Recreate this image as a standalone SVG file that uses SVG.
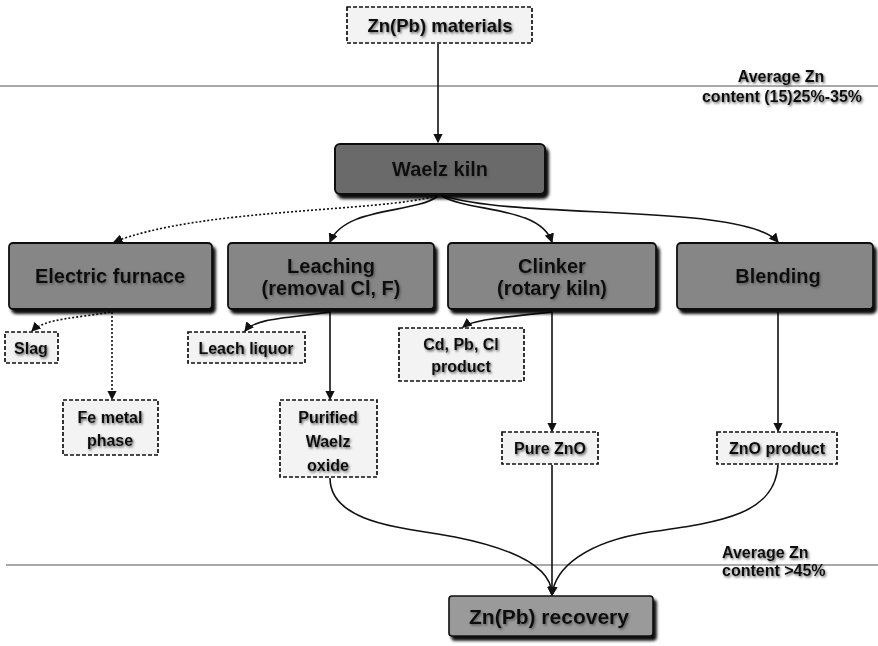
<svg xmlns="http://www.w3.org/2000/svg" width="878" height="646" viewBox="0 0 878 646">
  <defs>
    <filter id="boxShadow" x="-10%" y="-20%" width="125%" height="160%">
      <feDropShadow dx="3" dy="4" stdDeviation="1.6" flood-color="#000" flood-opacity="0.95"/>
    </filter>
    <filter id="txtShadow" x="-5%" y="-20%" width="115%" height="150%">
      <feDropShadow dx="1.2" dy="1.5" stdDeviation="1" flood-color="#555" flood-opacity="0.9"/>
    </filter>
    <marker id="arr" viewBox="0 0 8 8" refX="7" refY="4" markerWidth="6" markerHeight="6" orient="auto">
      <path d="M0,0 L8,4 L0,8 z" fill="#111"/>
    </marker>
    <style>
      .proc { fill: #868686; stroke: #111; stroke-width: 1.8; filter: url(#boxShadow); }
      .kiln { fill: #6a6a6a; stroke: #111; stroke-width: 2; filter: url(#boxShadow); }
      .rec { fill: #9a9a9a; stroke: #111; stroke-width: 1.6; filter: url(#boxShadow); }
      .out { fill: #f3f3f3; stroke: #111; stroke-width: 1.7; stroke-dasharray: 4 2; }
      .t { font-family: "Liberation Sans", Arial, sans-serif; font-weight: bold; fill: #0a0a0a; text-anchor: middle; filter: url(#txtShadow); }
      .big { font-size: 20px; }
      .mid { font-size: 16px; }
      .note { font-family: "Liberation Sans", Arial, sans-serif; font-weight: bold; fill: #0a0a0a; font-size: 16px; filter: url(#txtShadow); }
      .solid { fill: none; stroke: #111; stroke-width: 1.6; }
      .dot { fill: none; stroke: #111; stroke-width: 1.6; stroke-dasharray: 2 2; }
      .rule { stroke: #555; stroke-width: 1.2; }
    </style>
  </defs>

  <rect width="878" height="646" fill="#fff"/>

  <!-- content level rules -->
  <g id="levels">
    <line class="rule" x1="0" y1="86" x2="878" y2="86"/>
    <line class="rule" x1="6" y1="565" x2="878" y2="565"/>
    <text class="note" x="781" y="82" text-anchor="middle">Average Zn</text>
    <text class="note" x="782" y="102" text-anchor="middle" font-size="17">content (15)25%-35%</text>
    <text class="note" x="722" y="558">Average Zn</text>
    <text class="note" x="722" y="576">content &gt;45%</text>
  </g>

  <!-- connectors -->
  <g id="connectors">
    <line class="solid" x1="438" y1="44" x2="438" y2="142" marker-end="url(#arr)"/>
    <path class="dot" d="M436,196 C380,212 200,208 114,242" marker-end="url(#arr)"/>
    <path class="solid" d="M438,196 C415,214 345,206 330,242" marker-end="url(#arr)"/>
    <path class="solid" d="M442,196 C468,212 540,206 552,242" marker-end="url(#arr)"/>
    <path class="solid" d="M444,196 C520,220 745,203 778,242" marker-end="url(#arr)"/>

    <path class="dot" d="M110,312 C80,318 45,318 32,331" marker-end="url(#arr)"/>
    <line class="dot" x1="112" y1="312" x2="112" y2="399" marker-end="url(#arr)"/>
    <path class="solid" d="M330,312 C290,318 255,318 245,331" marker-end="url(#arr)"/>
    <line class="solid" x1="330" y1="312" x2="330" y2="399" marker-end="url(#arr)"/>
    <path class="solid" d="M552,312 C505,317 472,320 463,327" marker-end="url(#arr)"/>
    <line class="solid" x1="552" y1="312" x2="552" y2="431" marker-end="url(#arr)"/>
    <line class="solid" x1="778" y1="312" x2="778" y2="431" marker-end="url(#arr)"/>

    <path class="solid" d="M330,478 C330,525 410,528 455,537 C520,550 552,570 552,595" marker-end="url(#arr)"/>
    <line class="solid" x1="552" y1="465" x2="552" y2="595" marker-end="url(#arr)"/>
    <path class="solid" d="M778,465 C775,515 720,522 650,532 C585,542 555,568 552,595" marker-end="url(#arr)"/>
  </g>

  <g id="materials">
    <rect class="out" x="347" y="7" width="185" height="36"/>
    <text class="t" x="440" y="32" font-size="18.5px">Zn(Pb) materials</text>
  </g>

  <g id="waelz-kiln">
    <rect class="kiln" x="335" y="144" width="210" height="50" rx="5"/>
    <text class="t big" x="440" y="176">Waelz kiln</text>
  </g>

  <g id="electric-furnace">
    <rect class="proc" x="9" y="243" width="203" height="66" rx="4"/>
    <text class="t big" x="110" y="283">Electric furnace</text>
  </g>

  <g id="leaching">
    <rect class="proc" x="228" y="243" width="206" height="66" rx="4"/>
    <text class="t big" x="331" y="273">Leaching</text>
    <text class="t big" x="331" y="295">(removal Cl, F)</text>
  </g>

  <g id="clinker">
    <rect class="proc" x="448" y="243" width="208" height="66" rx="4"/>
    <text class="t big" x="552" y="273">Clinker</text>
    <text class="t big" x="552" y="295">(rotary kiln)</text>
  </g>

  <g id="blending">
    <rect class="proc" x="677" y="243" width="196" height="66" rx="4"/>
    <text class="t big" x="778" y="283">Blending</text>
  </g>

  <g id="slag">
    <rect class="out" x="5" y="332" width="53" height="31"/>
    <text class="t mid" x="31" y="354">Slag</text>
  </g>

  <g id="fe-metal">
    <rect class="out" x="63" y="400" width="95" height="55"/>
    <text class="t mid" x="110" y="423">Fe metal</text>
    <text class="t mid" x="110" y="446">phase</text>
  </g>

  <g id="leach-liquor">
    <rect class="out" x="188" y="332" width="117" height="31"/>
    <text class="t mid" x="246" y="354">Leach liquor</text>
  </g>

  <g id="purified-oxide">
    <rect class="out" x="280" y="400" width="97" height="77"/>
    <text class="t mid" x="328" y="423">Purified</text>
    <text class="t mid" x="328" y="447">Waelz</text>
    <text class="t mid" x="328" y="471">oxide</text>
  </g>

  <g id="cd-pb-cl">
    <rect class="out" x="399" y="328" width="125" height="53"/>
    <text class="t mid" x="461" y="350">Cd, Pb, Cl</text>
    <text class="t mid" x="461" y="372">product</text>
  </g>

  <g id="pure-zno">
    <rect class="out" x="502" y="432" width="96" height="32"/>
    <text class="t mid" x="550" y="454">Pure ZnO</text>
  </g>

  <g id="zno-product">
    <rect class="out" x="717" y="432" width="120" height="32"/>
    <text class="t mid" x="777" y="454">ZnO product</text>
  </g>

  <g id="recovery">
    <rect class="rec" x="449" y="596" width="204" height="40" rx="3"/>
    <text class="t" x="549" y="624" font-size="21px">Zn(Pb) recovery</text>
  </g>
</svg>
